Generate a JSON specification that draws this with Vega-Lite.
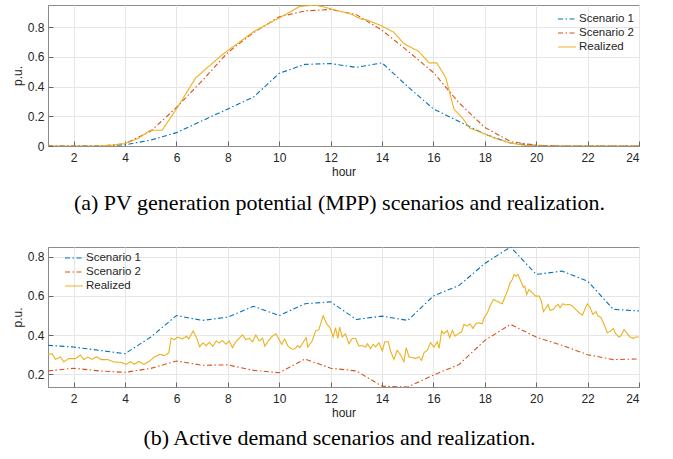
{
  "$schema": "https://vega.github.io/schema/vega-lite/v6.json",
  "padding": {"left": 10, "top": 4, "right": 5, "bottom": 3},
  "autosize": {"type": "pad"},
  "config": {
    "view": {"stroke": "#8c8c8c", "strokeWidth": 1},
    "font": "Liberation Sans",
    "axis": {
      "gridColor": "#e6e6e6",
      "gridWidth": 1,
      "domainColor": "#8c8c8c",
      "tickColor": "#666666",
      "tickSize": -5,
      "labelPadding": 9,
      "labelFont": "Liberation Sans",
      "labelFontSize": 12,
      "labelColor": "#262626",
      "titleFont": "Liberation Sans",
      "titleFontSize": 12,
      "titleFontWeight": "normal",
      "titleColor": "#262626"
    },
    "axisX": {"labelPadding": 11},
    "legend": {"labelFont": "Liberation Sans"}
  },
  "datasets": {
    "pv": [
      {"h": 1, "v": 0, "s": "Scenario 1"}, {"h": 2, "v": 0, "s": "Scenario 1"}, {"h": 3, "v": 0, "s": "Scenario 1"}, {"h": 4, "v": 0.008, "s": "Scenario 1"}, {"h": 5, "v": 0.04, "s": "Scenario 1"}, {"h": 6, "v": 0.09, "s": "Scenario 1"}, {"h": 7, "v": 0.17, "s": "Scenario 1"}, {"h": 8, "v": 0.25, "s": "Scenario 1"}, {"h": 9, "v": 0.33, "s": "Scenario 1"}, {"h": 10, "v": 0.49, "s": "Scenario 1"}, {"h": 11, "v": 0.55, "s": "Scenario 1"}, {"h": 12, "v": 0.555, "s": "Scenario 1"}, {"h": 13, "v": 0.53, "s": "Scenario 1"}, {"h": 14, "v": 0.56, "s": "Scenario 1"}, {"h": 15, "v": 0.4, "s": "Scenario 1"}, {"h": 16, "v": 0.25, "s": "Scenario 1"}, {"h": 17, "v": 0.165, "s": "Scenario 1"}, {"h": 18, "v": 0.08, "s": "Scenario 1"}, {"h": 19, "v": 0.02, "s": "Scenario 1"}, {"h": 20, "v": 0.003, "s": "Scenario 1"}, {"h": 21, "v": 0, "s": "Scenario 1"}, {"h": 22, "v": 0, "s": "Scenario 1"}, {"h": 23, "v": 0, "s": "Scenario 1"}, {"h": 24, "v": 0, "s": "Scenario 1"},
      {"h": 1, "v": 0, "s": "Scenario 2"}, {"h": 2, "v": 0, "s": "Scenario 2"}, {"h": 3, "v": 0, "s": "Scenario 2"}, {"h": 4, "v": 0.015, "s": "Scenario 2"}, {"h": 5, "v": 0.1, "s": "Scenario 2"}, {"h": 6, "v": 0.26, "s": "Scenario 2"}, {"h": 7, "v": 0.44, "s": "Scenario 2"}, {"h": 8, "v": 0.63, "s": "Scenario 2"}, {"h": 9, "v": 0.765, "s": "Scenario 2"}, {"h": 10, "v": 0.87, "s": "Scenario 2"}, {"h": 11, "v": 0.91, "s": "Scenario 2"}, {"h": 12, "v": 0.92, "s": "Scenario 2"}, {"h": 13, "v": 0.885, "s": "Scenario 2"}, {"h": 14, "v": 0.78, "s": "Scenario 2"}, {"h": 15, "v": 0.64, "s": "Scenario 2"}, {"h": 16, "v": 0.495, "s": "Scenario 2"}, {"h": 17, "v": 0.29, "s": "Scenario 2"}, {"h": 18, "v": 0.125, "s": "Scenario 2"}, {"h": 19, "v": 0.03, "s": "Scenario 2"}, {"h": 20, "v": 0.005, "s": "Scenario 2"}, {"h": 21, "v": 0, "s": "Scenario 2"}, {"h": 22, "v": 0, "s": "Scenario 2"}, {"h": 23, "v": 0, "s": "Scenario 2"}, {"h": 24, "v": 0, "s": "Scenario 2"},
      {"h": 1, "v": 0, "s": "Realized"}, {"h": 2, "v": 0, "s": "Realized"}, {"h": 3, "v": 0, "s": "Realized"}, {"h": 3.5, "v": 0.005, "s": "Realized"}, {"h": 4, "v": 0.016, "s": "Realized"}, {"h": 4.5, "v": 0.05, "s": "Realized"}, {"h": 4.98, "v": 0.106, "s": "Realized"}, {"h": 5.44, "v": 0.106, "s": "Realized"}, {"h": 6.0, "v": 0.25, "s": "Realized"}, {"h": 6.74, "v": 0.457, "s": "Realized"}, {"h": 7.06, "v": 0.507, "s": "Realized"}, {"h": 7.78, "v": 0.615, "s": "Realized"}, {"h": 9.0, "v": 0.77, "s": "Realized"}, {"h": 10.18, "v": 0.88, "s": "Realized"}, {"h": 10.8, "v": 0.94, "s": "Realized"}, {"h": 11.4, "v": 0.95, "s": "Realized"}, {"h": 12.0, "v": 0.925, "s": "Realized"}, {"h": 12.78, "v": 0.89, "s": "Realized"}, {"h": 13.17, "v": 0.856, "s": "Realized"}, {"h": 13.4, "v": 0.85, "s": "Realized"}, {"h": 13.98, "v": 0.81, "s": "Realized"}, {"h": 14.46, "v": 0.766, "s": "Realized"}, {"h": 14.85, "v": 0.69, "s": "Realized"}, {"h": 15.43, "v": 0.637, "s": "Realized"}, {"h": 15.83, "v": 0.56, "s": "Realized"}, {"h": 16.13, "v": 0.56, "s": "Realized"}, {"h": 16.48, "v": 0.46, "s": "Realized"}, {"h": 16.8, "v": 0.248, "s": "Realized"}, {"h": 17.12, "v": 0.19, "s": "Realized"}, {"h": 17.42, "v": 0.12, "s": "Realized"}, {"h": 18.03, "v": 0.079, "s": "Realized"}, {"h": 18.5, "v": 0.045, "s": "Realized"}, {"h": 19, "v": 0.02, "s": "Realized"}, {"h": 19.5, "v": 0.005, "s": "Realized"}, {"h": 20, "v": 0, "s": "Realized"}, {"h": 24, "v": 0, "s": "Realized"}
    ],
    "demand": [
      {"h": 1, "v": 0.348, "s": "Scenario 1"}, {"h": 2, "v": 0.339, "s": "Scenario 1"}, {"h": 3, "v": 0.322, "s": "Scenario 1"}, {"h": 4, "v": 0.305, "s": "Scenario 1"}, {"h": 5, "v": 0.39, "s": "Scenario 1"}, {"h": 6, "v": 0.5, "s": "Scenario 1"}, {"h": 7, "v": 0.475, "s": "Scenario 1"}, {"h": 8, "v": 0.492, "s": "Scenario 1"}, {"h": 9, "v": 0.547, "s": "Scenario 1"}, {"h": 10, "v": 0.5, "s": "Scenario 1"}, {"h": 11, "v": 0.56, "s": "Scenario 1"}, {"h": 12, "v": 0.57, "s": "Scenario 1"}, {"h": 13, "v": 0.48, "s": "Scenario 1"}, {"h": 14, "v": 0.497, "s": "Scenario 1"}, {"h": 15, "v": 0.475, "s": "Scenario 1"}, {"h": 16, "v": 0.6, "s": "Scenario 1"}, {"h": 17, "v": 0.654, "s": "Scenario 1"}, {"h": 18, "v": 0.766, "s": "Scenario 1"}, {"h": 19, "v": 0.85, "s": "Scenario 1"}, {"h": 20, "v": 0.71, "s": "Scenario 1"}, {"h": 21, "v": 0.727, "s": "Scenario 1"}, {"h": 22, "v": 0.676, "s": "Scenario 1"}, {"h": 23, "v": 0.532, "s": "Scenario 1"}, {"h": 24, "v": 0.523, "s": "Scenario 1"},
      {"h": 1, "v": 0.217, "s": "Scenario 2"}, {"h": 2, "v": 0.231, "s": "Scenario 2"}, {"h": 3, "v": 0.217, "s": "Scenario 2"}, {"h": 4, "v": 0.21, "s": "Scenario 2"}, {"h": 5, "v": 0.23, "s": "Scenario 2"}, {"h": 6, "v": 0.268, "s": "Scenario 2"}, {"h": 7, "v": 0.246, "s": "Scenario 2"}, {"h": 8, "v": 0.248, "s": "Scenario 2"}, {"h": 9, "v": 0.22, "s": "Scenario 2"}, {"h": 10, "v": 0.208, "s": "Scenario 2"}, {"h": 11, "v": 0.278, "s": "Scenario 2"}, {"h": 12, "v": 0.231, "s": "Scenario 2"}, {"h": 13, "v": 0.217, "s": "Scenario 2"}, {"h": 14, "v": 0.139, "s": "Scenario 2"}, {"h": 15, "v": 0.135, "s": "Scenario 2"}, {"h": 16, "v": 0.196, "s": "Scenario 2"}, {"h": 17, "v": 0.25, "s": "Scenario 2"}, {"h": 18, "v": 0.373, "s": "Scenario 2"}, {"h": 19, "v": 0.455, "s": "Scenario 2"}, {"h": 20, "v": 0.39, "s": "Scenario 2"}, {"h": 21, "v": 0.348, "s": "Scenario 2"}, {"h": 22, "v": 0.3, "s": "Scenario 2"}, {"h": 23, "v": 0.275, "s": "Scenario 2"}, {"h": 24, "v": 0.278, "s": "Scenario 2"},
      {"h": 1.0, "v": 0.302, "s": "Realized"}, {"h": 1.16, "v": 0.305, "s": "Realized"}, {"h": 1.29, "v": 0.276, "s": "Realized"}, {"h": 1.48, "v": 0.288, "s": "Realized"}, {"h": 1.61, "v": 0.264, "s": "Realized"}, {"h": 1.81, "v": 0.28, "s": "Realized"}, {"h": 2.07, "v": 0.28, "s": "Realized"}, {"h": 2.26, "v": 0.298, "s": "Realized"}, {"h": 2.39, "v": 0.275, "s": "Realized"}, {"h": 2.55, "v": 0.288, "s": "Realized"}, {"h": 2.72, "v": 0.276, "s": "Realized"}, {"h": 2.88, "v": 0.29, "s": "Realized"}, {"h": 3.07, "v": 0.275, "s": "Realized"}, {"h": 3.33, "v": 0.275, "s": "Realized"}, {"h": 3.56, "v": 0.263, "s": "Realized"}, {"h": 3.82, "v": 0.261, "s": "Realized"}, {"h": 4.05, "v": 0.251, "s": "Realized"}, {"h": 4.21, "v": 0.264, "s": "Realized"}, {"h": 4.36, "v": 0.251, "s": "Realized"}, {"h": 4.53, "v": 0.266, "s": "Realized"}, {"h": 4.73, "v": 0.251, "s": "Realized"}, {"h": 4.92, "v": 0.264, "s": "Realized"}, {"h": 5.14, "v": 0.288, "s": "Realized"}, {"h": 5.35, "v": 0.302, "s": "Realized"}, {"h": 5.53, "v": 0.295, "s": "Realized"}, {"h": 5.7, "v": 0.309, "s": "Realized"}, {"h": 5.79, "v": 0.384, "s": "Realized"}, {"h": 5.92, "v": 0.377, "s": "Realized"}, {"h": 6.05, "v": 0.39, "s": "Realized"}, {"h": 6.22, "v": 0.38, "s": "Realized"}, {"h": 6.39, "v": 0.394, "s": "Realized"}, {"h": 6.48, "v": 0.38, "s": "Realized"}, {"h": 6.65, "v": 0.421, "s": "Realized"}, {"h": 6.78, "v": 0.387, "s": "Realized"}, {"h": 6.9, "v": 0.341, "s": "Realized"}, {"h": 7.03, "v": 0.36, "s": "Realized"}, {"h": 7.15, "v": 0.346, "s": "Realized"}, {"h": 7.28, "v": 0.363, "s": "Realized"}, {"h": 7.41, "v": 0.343, "s": "Realized"}, {"h": 7.55, "v": 0.37, "s": "Realized"}, {"h": 7.67, "v": 0.36, "s": "Realized"}, {"h": 7.78, "v": 0.373, "s": "Realized"}, {"h": 7.93, "v": 0.353, "s": "Realized"}, {"h": 8.05, "v": 0.37, "s": "Realized"}, {"h": 8.18, "v": 0.336, "s": "Realized"}, {"h": 8.31, "v": 0.366, "s": "Realized"}, {"h": 8.44, "v": 0.384, "s": "Realized"}, {"h": 8.57, "v": 0.401, "s": "Realized"}, {"h": 8.7, "v": 0.377, "s": "Realized"}, {"h": 8.83, "v": 0.384, "s": "Realized"}, {"h": 8.96, "v": 0.366, "s": "Realized"}, {"h": 9.09, "v": 0.401, "s": "Realized"}, {"h": 9.22, "v": 0.37, "s": "Realized"}, {"h": 9.35, "v": 0.384, "s": "Realized"}, {"h": 9.44, "v": 0.343, "s": "Realized"}, {"h": 9.57, "v": 0.37, "s": "Realized"}, {"h": 9.73, "v": 0.394, "s": "Realized"}, {"h": 9.87, "v": 0.407, "s": "Realized"}, {"h": 10.0, "v": 0.377, "s": "Realized"}, {"h": 10.09, "v": 0.353, "s": "Realized"}, {"h": 10.21, "v": 0.38, "s": "Realized"}, {"h": 10.34, "v": 0.344, "s": "Realized"}, {"h": 10.47, "v": 0.329, "s": "Realized"}, {"h": 10.59, "v": 0.329, "s": "Realized"}, {"h": 10.72, "v": 0.346, "s": "Realized"}, {"h": 10.8, "v": 0.336, "s": "Realized"}, {"h": 10.93, "v": 0.363, "s": "Realized"}, {"h": 11.05, "v": 0.387, "s": "Realized"}, {"h": 11.11, "v": 0.339, "s": "Realized"}, {"h": 11.28, "v": 0.37, "s": "Realized"}, {"h": 11.41, "v": 0.421, "s": "Realized"}, {"h": 11.54, "v": 0.428, "s": "Realized"}, {"h": 11.71, "v": 0.499, "s": "Realized"}, {"h": 11.84, "v": 0.458, "s": "Realized"}, {"h": 11.97, "v": 0.438, "s": "Realized"}, {"h": 12.1, "v": 0.39, "s": "Realized"}, {"h": 12.19, "v": 0.438, "s": "Realized"}, {"h": 12.28, "v": 0.383, "s": "Realized"}, {"h": 12.35, "v": 0.441, "s": "Realized"}, {"h": 12.45, "v": 0.39, "s": "Realized"}, {"h": 12.58, "v": 0.407, "s": "Realized"}, {"h": 12.71, "v": 0.356, "s": "Realized"}, {"h": 12.84, "v": 0.383, "s": "Realized"}, {"h": 12.97, "v": 0.383, "s": "Realized"}, {"h": 13.1, "v": 0.344, "s": "Realized"}, {"h": 13.23, "v": 0.346, "s": "Realized"}, {"h": 13.36, "v": 0.339, "s": "Realized"}, {"h": 13.43, "v": 0.356, "s": "Realized"}, {"h": 13.55, "v": 0.331, "s": "Realized"}, {"h": 13.65, "v": 0.353, "s": "Realized"}, {"h": 13.75, "v": 0.34, "s": "Realized"}, {"h": 13.88, "v": 0.361, "s": "Realized"}, {"h": 14.01, "v": 0.319, "s": "Realized"}, {"h": 14.11, "v": 0.366, "s": "Realized"}, {"h": 14.24, "v": 0.366, "s": "Realized"}, {"h": 14.33, "v": 0.319, "s": "Realized"}, {"h": 14.46, "v": 0.276, "s": "Realized"}, {"h": 14.59, "v": 0.322, "s": "Realized"}, {"h": 14.72, "v": 0.3, "s": "Realized"}, {"h": 14.85, "v": 0.264, "s": "Realized"}, {"h": 14.94, "v": 0.336, "s": "Realized"}, {"h": 15.05, "v": 0.288, "s": "Realized"}, {"h": 15.18, "v": 0.285, "s": "Realized"}, {"h": 15.31, "v": 0.281, "s": "Realized"}, {"h": 15.44, "v": 0.288, "s": "Realized"}, {"h": 15.54, "v": 0.271, "s": "Realized"}, {"h": 15.63, "v": 0.31, "s": "Realized"}, {"h": 15.76, "v": 0.322, "s": "Realized"}, {"h": 15.89, "v": 0.361, "s": "Realized"}, {"h": 16.02, "v": 0.339, "s": "Realized"}, {"h": 16.15, "v": 0.366, "s": "Realized"}, {"h": 16.22, "v": 0.332, "s": "Realized"}, {"h": 16.32, "v": 0.421, "s": "Realized"}, {"h": 16.41, "v": 0.407, "s": "Realized"}, {"h": 16.54, "v": 0.424, "s": "Realized"}, {"h": 16.63, "v": 0.387, "s": "Realized"}, {"h": 16.74, "v": 0.424, "s": "Realized"}, {"h": 16.84, "v": 0.395, "s": "Realized"}, {"h": 16.97, "v": 0.407, "s": "Realized"}, {"h": 17.1, "v": 0.417, "s": "Realized"}, {"h": 17.19, "v": 0.455, "s": "Realized"}, {"h": 17.32, "v": 0.446, "s": "Realized"}, {"h": 17.42, "v": 0.458, "s": "Realized"}, {"h": 17.54, "v": 0.434, "s": "Realized"}, {"h": 17.65, "v": 0.458, "s": "Realized"}, {"h": 17.77, "v": 0.463, "s": "Realized"}, {"h": 17.9, "v": 0.458, "s": "Realized"}, {"h": 17.97, "v": 0.489, "s": "Realized"}, {"h": 18.1, "v": 0.514, "s": "Realized"}, {"h": 18.2, "v": 0.548, "s": "Realized"}, {"h": 18.33, "v": 0.582, "s": "Realized"}, {"h": 18.46, "v": 0.574, "s": "Realized"}, {"h": 18.59, "v": 0.565, "s": "Realized"}, {"h": 18.68, "v": 0.56, "s": "Realized"}, {"h": 18.77, "v": 0.591, "s": "Realized"}, {"h": 18.88, "v": 0.625, "s": "Realized"}, {"h": 18.98, "v": 0.667, "s": "Realized"}, {"h": 19.07, "v": 0.684, "s": "Realized"}, {"h": 19.14, "v": 0.71, "s": "Realized"}, {"h": 19.22, "v": 0.7, "s": "Realized"}, {"h": 19.29, "v": 0.71, "s": "Realized"}, {"h": 19.4, "v": 0.676, "s": "Realized"}, {"h": 19.5, "v": 0.645, "s": "Realized"}, {"h": 19.55, "v": 0.65, "s": "Realized"}, {"h": 19.63, "v": 0.608, "s": "Realized"}, {"h": 19.72, "v": 0.633, "s": "Realized"}, {"h": 19.85, "v": 0.616, "s": "Realized"}, {"h": 19.98, "v": 0.599, "s": "Realized"}, {"h": 20.11, "v": 0.599, "s": "Realized"}, {"h": 20.2, "v": 0.574, "s": "Realized"}, {"h": 20.28, "v": 0.52, "s": "Realized"}, {"h": 20.37, "v": 0.536, "s": "Realized"}, {"h": 20.46, "v": 0.557, "s": "Realized"}, {"h": 20.54, "v": 0.526, "s": "Realized"}, {"h": 20.67, "v": 0.531, "s": "Realized"}, {"h": 20.76, "v": 0.548, "s": "Realized"}, {"h": 20.85, "v": 0.557, "s": "Realized"}, {"h": 20.93, "v": 0.54, "s": "Realized"}, {"h": 21.03, "v": 0.56, "s": "Realized"}, {"h": 21.15, "v": 0.554, "s": "Realized"}, {"h": 21.28, "v": 0.557, "s": "Realized"}, {"h": 21.41, "v": 0.548, "s": "Realized"}, {"h": 21.54, "v": 0.531, "s": "Realized"}, {"h": 21.67, "v": 0.514, "s": "Realized"}, {"h": 21.8, "v": 0.502, "s": "Realized"}, {"h": 21.89, "v": 0.531, "s": "Realized"}, {"h": 21.99, "v": 0.56, "s": "Realized"}, {"h": 22.1, "v": 0.54, "s": "Realized"}, {"h": 22.2, "v": 0.506, "s": "Realized"}, {"h": 22.32, "v": 0.52, "s": "Realized"}, {"h": 22.41, "v": 0.497, "s": "Realized"}, {"h": 22.51, "v": 0.492, "s": "Realized"}, {"h": 22.64, "v": 0.455, "s": "Realized"}, {"h": 22.77, "v": 0.412, "s": "Realized"}, {"h": 22.9, "v": 0.421, "s": "Realized"}, {"h": 23.0, "v": 0.434, "s": "Realized"}, {"h": 23.09, "v": 0.407, "s": "Realized"}, {"h": 23.22, "v": 0.39, "s": "Realized"}, {"h": 23.29, "v": 0.395, "s": "Realized"}, {"h": 23.42, "v": 0.429, "s": "Realized"}, {"h": 23.52, "v": 0.412, "s": "Realized"}, {"h": 23.65, "v": 0.39, "s": "Realized"}, {"h": 23.78, "v": 0.383, "s": "Realized"}, {"h": 23.87, "v": 0.39, "s": "Realized"}, {"h": 24.0, "v": 0.39, "s": "Realized"}
    ]
  },
  "spacing": 31,
  "resolve": {
    "scale": {"color": "independent", "strokeDash": "independent"},
    "legend": {"color": "independent", "strokeDash": "independent"}
  },
  "vconcat": [
    {
      "width": 591,
      "height": 141,
      "title": {"text": "(a) PV generation potential (MPP) scenarios and realization.", "orient": "bottom", "anchor": "middle", "frame": "group", "dx": -4, "offset": 16, "font": "Liberation Serif", "fontSize": 22, "fontWeight": "normal", "color": "#000000"},
      "data": {"name": "pv"},
      "encoding": {
        "x": {"field": "h", "type": "quantitative", "scale": {"domain": [1, 24], "nice": false, "zero": false}, "axis": {"values": [2, 4, 6, 8, 10, 12, 14, 16, 18, 20, 22, 24], "title": "hour", "titlePadding": 3}},
        "y": {"field": "v", "type": "quantitative", "scale": {"domain": [0, 0.95], "nice": false, "zero": false}, "axis": {"values": [0, 0.2, 0.4, 0.6, 0.8], "format": ".1~f", "title": "p.u.", "titlePadding": 3}},
        "color": {"field": "s", "type": "nominal", "scale": {"domain": ["Scenario 1", "Scenario 2", "Realized"], "range": ["#0072BD", "#D95319", "#EDB120"]}, "legend": {"title": null, "orient": "none", "legendX": 509, "legendY": 7, "symbolType": "stroke", "symbolSize": 324, "symbolStrokeWidth": 1.1, "labelFontSize": 11.5, "labelColor": "#262626", "rowPadding": 0, "clipHeight": 14, "padding": 0, "labelOffset": 2}},
        "strokeDash": {"field": "s", "type": "nominal", "scale": {"domain": ["Scenario 1", "Scenario 2", "Realized"], "range": [[5, 2.5, 1.5, 2.5], [5, 2.5, 1.5, 2.5], [1, 0]]}, "legend": {"title": null, "orient": "none", "legendX": 509, "legendY": 7, "symbolType": "stroke", "symbolSize": 324, "symbolStrokeWidth": 1.1, "labelFontSize": 11.5, "labelColor": "#262626", "rowPadding": 0, "clipHeight": 14, "padding": 0, "labelOffset": 2}}
      },
      "layer": [
        {"transform": [{"filter": "datum.s !== 'Realized'"}], "mark": {"type": "line", "strokeWidth": 1.1, "clip": true}},
        {"transform": [{"filter": "datum.s === 'Realized'"}], "mark": {"type": "line", "strokeWidth": 1.1, "clip": true}}
      ]
    },
    {
      "width": 591,
      "height": 140,
      "title": {"text": "(b) Active demand scenarios and realization.", "orient": "bottom", "anchor": "middle", "frame": "group", "dx": -4, "offset": 10, "font": "Liberation Serif", "fontSize": 22, "fontWeight": "normal", "color": "#000000"},
      "data": {"name": "demand"},
      "encoding": {
        "x": {"field": "h", "type": "quantitative", "scale": {"domain": [1, 24], "nice": false, "zero": false}, "axis": {"values": [2, 4, 6, 8, 10, 12, 14, 16, 18, 20, 22, 24], "title": "hour", "titlePadding": 3}},
        "y": {"field": "v", "type": "quantitative", "scale": {"domain": [0.135, 0.85], "nice": false, "zero": false}, "axis": {"values": [0.2, 0.4, 0.6, 0.8], "format": ".1~f", "title": "p.u.", "titlePadding": 3}},
        "color": {"field": "s", "type": "nominal", "scale": {"domain": ["Scenario 1", "Scenario 2", "Realized"], "range": ["#0072BD", "#D95319", "#EDB120"]}, "legend": {"title": null, "orient": "none", "legendX": 16, "legendY": 4, "symbolType": "stroke", "symbolSize": 324, "symbolStrokeWidth": 1.1, "labelFontSize": 11.5, "labelColor": "#262626", "rowPadding": 0, "clipHeight": 14, "padding": 0, "labelOffset": 2}},
        "strokeDash": {"field": "s", "type": "nominal", "scale": {"domain": ["Scenario 1", "Scenario 2", "Realized"], "range": [[5, 2.5, 1.5, 2.5], [5, 2.5, 1.5, 2.5], [1, 0]]}, "legend": {"title": null, "orient": "none", "legendX": 16, "legendY": 4, "symbolType": "stroke", "symbolSize": 324, "symbolStrokeWidth": 1.1, "labelFontSize": 11.5, "labelColor": "#262626", "rowPadding": 0, "clipHeight": 14, "padding": 0, "labelOffset": 2}}
      },
      "layer": [
        {"transform": [{"filter": "datum.s !== 'Realized'"}], "mark": {"type": "line", "strokeWidth": 1.1, "clip": true}},
        {"transform": [{"filter": "datum.s === 'Realized'"}], "mark": {"type": "line", "strokeWidth": 1.1, "clip": true}}
      ]
    }
  ]
}
